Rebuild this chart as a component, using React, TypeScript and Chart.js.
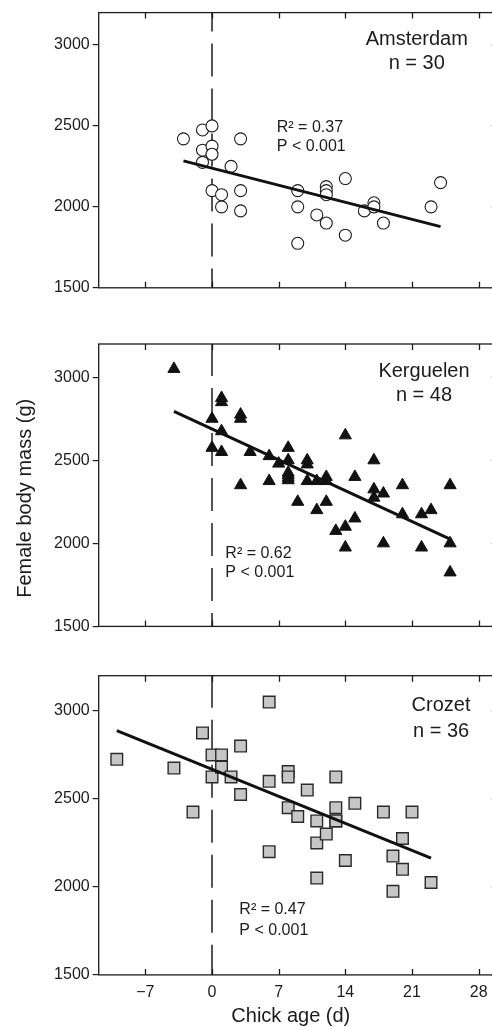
import { useEffect, useRef } from "react";
import { Chart, registerables } from "chart.js";

Chart.register(...registerables);

// ---- data -------------------------------------------------------------
const X_TICKS = [-7, 0, 7, 14, 21, 28];
const Y_TICKS = [1500, 2000, 2500, 3000];
const X_MIN = -11.9;
const X_MAX = 30;
const Y_MIN = 1500;
const Y_MAX = 3200;

// Amsterdam (n = 30)
const amsterdamAge = [-3, -1, 0, -1, 0, 0, -1, 3, 2, 0, 1, 1, 3, 3, 9, 9, 9, 11, 12, 12, 12, 12, 14, 14, 16, 17, 17, 18, 23, 24];
const amsterdamMass = [2420, 2475, 2500, 2350, 2375, 2325, 2275, 2420, 2250, 2100, 2075, 2000, 2100, 1975, 2100, 2000, 1775, 1950, 2125, 2100, 2075, 1900, 2175, 1825, 1975, 2025, 2000, 1900, 2000, 2150];
const amsterdamFitAge = [-3, 24];
const amsterdamFitMass = [2284, 1878];

// Kerguelen (n = 48)
const kerguelenAge = [-4, 0, 0, 1, 1, 1, 1, 3, 3, 3, 4, 6, 6, 7, 8, 8, 8, 8, 8, 8, 9, 10, 10, 10, 11, 11, 12, 12, 12, 13, 14, 14, 14, 15, 15, 17, 17, 17, 18, 18, 20, 20, 22, 22, 23, 25, 25, 25];
const kerguelenMass = [3050, 2750, 2575, 2875, 2850, 2675, 2550, 2775, 2750, 2350, 2550, 2525, 2375, 2480, 2575, 2500, 2425, 2410, 2395, 2380, 2250, 2500, 2475, 2375, 2375, 2200, 2400, 2375, 2250, 2075, 2650, 2100, 1975, 2400, 2150, 2500, 2325, 2275, 2300, 2000, 2350, 2175, 2175, 1975, 2200, 2350, 2000, 1825];
const kerguelenFitAge = [-4, 25];
const kerguelenFitMass = [2794, 2025];

// Crozet (n = 36)
const crozetAge = [-10, -4, -2, -1, 0, 0, 1, 1, 2, 3, 3, 6, 6, 6, 8, 8, 8, 9, 10, 11, 11, 11, 12, 13, 13, 13, 13, 14, 15, 18, 19, 19, 20, 20, 21, 23];
const crozetMass = [2725, 2675, 2425, 2875, 2750, 2625, 2750, 2680, 2625, 2800, 2525, 3050, 2600, 2200, 2655, 2625, 2450, 2400, 2550, 2375, 2250, 2050, 2300, 2625, 2450, 2375, 2375, 2150, 2475, 2425, 2175, 1975, 2275, 2100, 2425, 2025];
const crozetFitAge = [-10, 23];
const crozetFitMass = [2888, 2163];

const INK = "#1c1c1c";
const FONT = '"Liberation Sans", Arial, Helvetica, sans-serif';

const toPoints = (xs: number[], ys: number[]) => xs.map((x, i) => ({ x, y: ys[i] }));

type Text = { text: string; x: number; y: number; align: CanvasTextAlign; size: number };

type PanelSpec = {
  key: string;
  top: number;
  height: number;
  padTop: number;
  padBottom: number;
  showXLabels: boolean;
  dashOffset: number;
  points: { x: number; y: number }[];
  marker: Record<string, unknown>;
  fit: { x: number; y: number }[];
  texts: Text[];
  pixelTexts: (Text & { rotate?: boolean })[];
};

const CANVAS_W = 510;
const AREA_LEFT = 98.7;
const AREA_RIGHT = 497.7;

const panels: PanelSpec[] = [
  {
    key: "amsterdam",
    top: 0,
    height: 330,
    padTop: 9.7,
    padBottom: 21.1,
    showXLabels: false,
    dashOffset: 14,
    points: toPoints(amsterdamAge, amsterdamMass),
    marker: { pointStyle: "circle", pointRadius: 6, backgroundColor: "#ffffff", borderColor: INK, borderWidth: 1.1 },
    fit: toPoints(amsterdamFitAge, amsterdamFitMass),
    texts: [
      { text: "Amsterdam", x: 21.5, y: 3037, align: "center", size: 20 },
      { text: "n = 30", x: 21.5, y: 2886, align: "center", size: 20 },
      { text: "R\u00b2 = 0.37", x: 6.8, y: 2490, align: "left", size: 16 },
      { text: "P < 0.001", x: 6.8, y: 2371, align: "left", size: 16 },
    ],
    pixelTexts: [],
  },
  {
    key: "kerguelen",
    top: 330,
    height: 330,
    padTop: 14,
    padBottom: 16.8,
    showXLabels: false,
    dashOffset: 1,
    points: toPoints(kerguelenAge, kerguelenMass),
    marker: { pointStyle: "triangle", pointRadius: 7, backgroundColor: "#111111", borderColor: "#111111", borderWidth: 1 },
    fit: toPoints(kerguelenFitAge, kerguelenFitMass),
    texts: [
      { text: "Kerguelen", x: 22.26, y: 3036, align: "center", size: 20 },
      { text: "n = 48", x: 22.26, y: 2890, align: "center", size: 20 },
      { text: "R\u00b2 = 0.62", x: 1.4, y: 1939, align: "left", size: 16 },
      { text: "P < 0.001", x: 1.4, y: 1824, align: "left", size: 16 },
    ],
    pixelTexts: [{ text: "Female body mass (g)", x: 25, y: 168.3, align: "center", size: 20, rotate: true }],
  },
  {
    key: "crozet",
    top: 660,
    height: 367,
    padTop: 15.7,
    padBottom: 0,
    showXLabels: true,
    dashOffset: 1,
    points: toPoints(crozetAge, crozetMass),
    marker: { pointStyle: "rect", pointRadius: 8.2, backgroundColor: "#c6c6c6", borderColor: "#2a2a2a", borderWidth: 1.4 },
    fit: toPoints(crozetFitAge, crozetFitMass),
    texts: [
      { text: "Crozet", x: 24.05, y: 3028, align: "center", size: 20 },
      { text: "n = 36", x: 24.05, y: 2881, align: "center", size: 20 },
      { text: "R\u00b2 = 0.47", x: 2.87, y: 1869, align: "left", size: 16 },
      { text: "P < 0.001", x: 2.87, y: 1750, align: "left", size: 16 },
    ],
    pixelTexts: [{ text: "Chick age (d)", x: 290.8, y: 356, align: "center", size: 20 }],
  },
];

// Frame with inward ticks, panel labels and axis titles
const framePlugin = {
  id: "frame",
  afterDatasetsDraw(chart: any, _args: any, opts: any) {
    const { ctx, chartArea: a } = chart;
    const xs = chart.scales.x;
    const ys = chart.scales.y;
    ctx.save();
    ctx.strokeStyle = INK;
    ctx.lineWidth = 1.3;
    ctx.strokeRect(a.left, a.top, a.right - a.left, a.bottom - a.top);
    ctx.beginPath();
    for (const v of X_TICKS) {
      const px = Math.round(xs.getPixelForValue(v)) + 0.5;
      ctx.moveTo(px, a.top);
      ctx.lineTo(px, a.top + 6);
      ctx.moveTo(px, a.bottom);
      ctx.lineTo(px, a.bottom - 6);
    }
    for (const v of Y_TICKS) {
      const py = ys.getPixelForValue(v);
      ctx.moveTo(a.right, py);
      ctx.lineTo(a.right - 6, py);
    }
    ctx.stroke();

    ctx.fillStyle = INK;
    ctx.textBaseline = "middle";
    for (const t of opts.texts as Text[]) {
      ctx.font = `${t.size}px ${FONT}`;
      ctx.textAlign = t.align;
      ctx.fillText(t.text, xs.getPixelForValue(t.x), ys.getPixelForValue(t.y));
    }
    for (const t of opts.pixelTexts as (Text & { rotate?: boolean })[]) {
      ctx.font = `${t.size}px ${FONT}`;
      ctx.textAlign = t.align;
      if (t.rotate) {
        ctx.save();
        ctx.translate(t.x, t.y);
        ctx.rotate(-Math.PI / 2);
        ctx.fillText(t.text, 0, 0);
        ctx.restore();
      } else {
        ctx.fillText(t.text, t.x, t.y);
      }
    }
    ctx.restore();
  },
};

function buildChart(canvas: HTMLCanvasElement, p: PanelSpec) {
  return new Chart(canvas, {
    type: "scatter",
    data: {
      datasets: [
        {
          data: p.fit,
          showLine: true,
          borderColor: "#111111",
          borderWidth: 3,
          pointRadius: 0,
          order: 0,
        } as any,
        {
          data: p.points,
          ...p.marker,
          pointHoverRadius: p.marker.pointRadius,
          order: 1,
        } as any,
        {
          data: [
            { x: 0, y: Y_MAX },
            { x: 0, y: Y_MIN },
          ],
          showLine: true,
          borderColor: INK,
          borderWidth: 1.5,
          borderDash: [33, 12],
          borderDashOffset: p.dashOffset,
          pointRadius: 0,
          order: 2,
        } as any,
      ],
    },
    options: {
      responsive: false,
      animation: false,
      devicePixelRatio: 1,
      events: [],
      layout: {
        padding: { left: 0, right: CANVAS_W - AREA_RIGHT, top: p.padTop, bottom: p.padBottom },
      },
      plugins: {
        legend: { display: false },
        tooltip: { enabled: false },
        frame: { texts: p.texts, pixelTexts: p.pixelTexts },
      } as any,
      scales: {
        x: {
          type: "linear",
          min: X_MIN,
          max: X_MAX,
          display: p.showXLabels,
          afterBuildTicks: (s: any) => {
            s.ticks = X_TICKS.map((value) => ({ value }));
          },
          afterFit: (s: any) => {
            s.height = p.height - p.padTop - 299.2;
          },
          grid: { display: false, drawTicks: false },
          border: { display: false },
          ticks: {
            padding: 8,
            color: INK,
            font: { family: FONT, size: 16 },
            maxRotation: 0,
            callback: (v: any) => (Number(v) < 0 ? "\u2212" + Math.abs(Number(v)) : String(v)),
          },
        },
        y: {
          type: "linear",
          min: Y_MIN,
          max: Y_MAX,
          afterBuildTicks: (s: any) => {
            s.ticks = Y_TICKS.map((value) => ({ value }));
          },
          afterFit: (s: any) => {
            s.width = AREA_LEFT;
          },
          grid: { drawOnChartArea: false, drawTicks: true, tickLength: 6, color: INK, lineWidth: 1.2 },
          border: { display: false },
          ticks: {
            padding: 3,
            color: INK,
            font: { family: FONT, size: 16 },
            callback: (v: any) => String(v),
          },
        },
      },
    },
    plugins: [framePlugin],
  });
}

export default function App() {
  const refs = useRef<(HTMLCanvasElement | null)[]>([]);

  useEffect(() => {
    const charts = panels.map((p, i) => buildChart(refs.current[i] as HTMLCanvasElement, p));
    return () => charts.forEach((c) => c.destroy());
  }, []);

  return (
    <div
      style={{
        position: "absolute",
        left: 0,
        top: 0,
        width: 492,
        height: 1027,
        overflow: "hidden",
        background: "#ffffff",
      }}
    >
      {panels.map((p, i) => (
        <canvas
          key={p.key}
          ref={(el) => {
            refs.current[i] = el;
          }}
          width={CANVAS_W}
          height={p.height}
          style={{ position: "absolute", left: 0, top: p.top, width: CANVAS_W, height: p.height }}
        />
      ))}
    </div>
  );
}
